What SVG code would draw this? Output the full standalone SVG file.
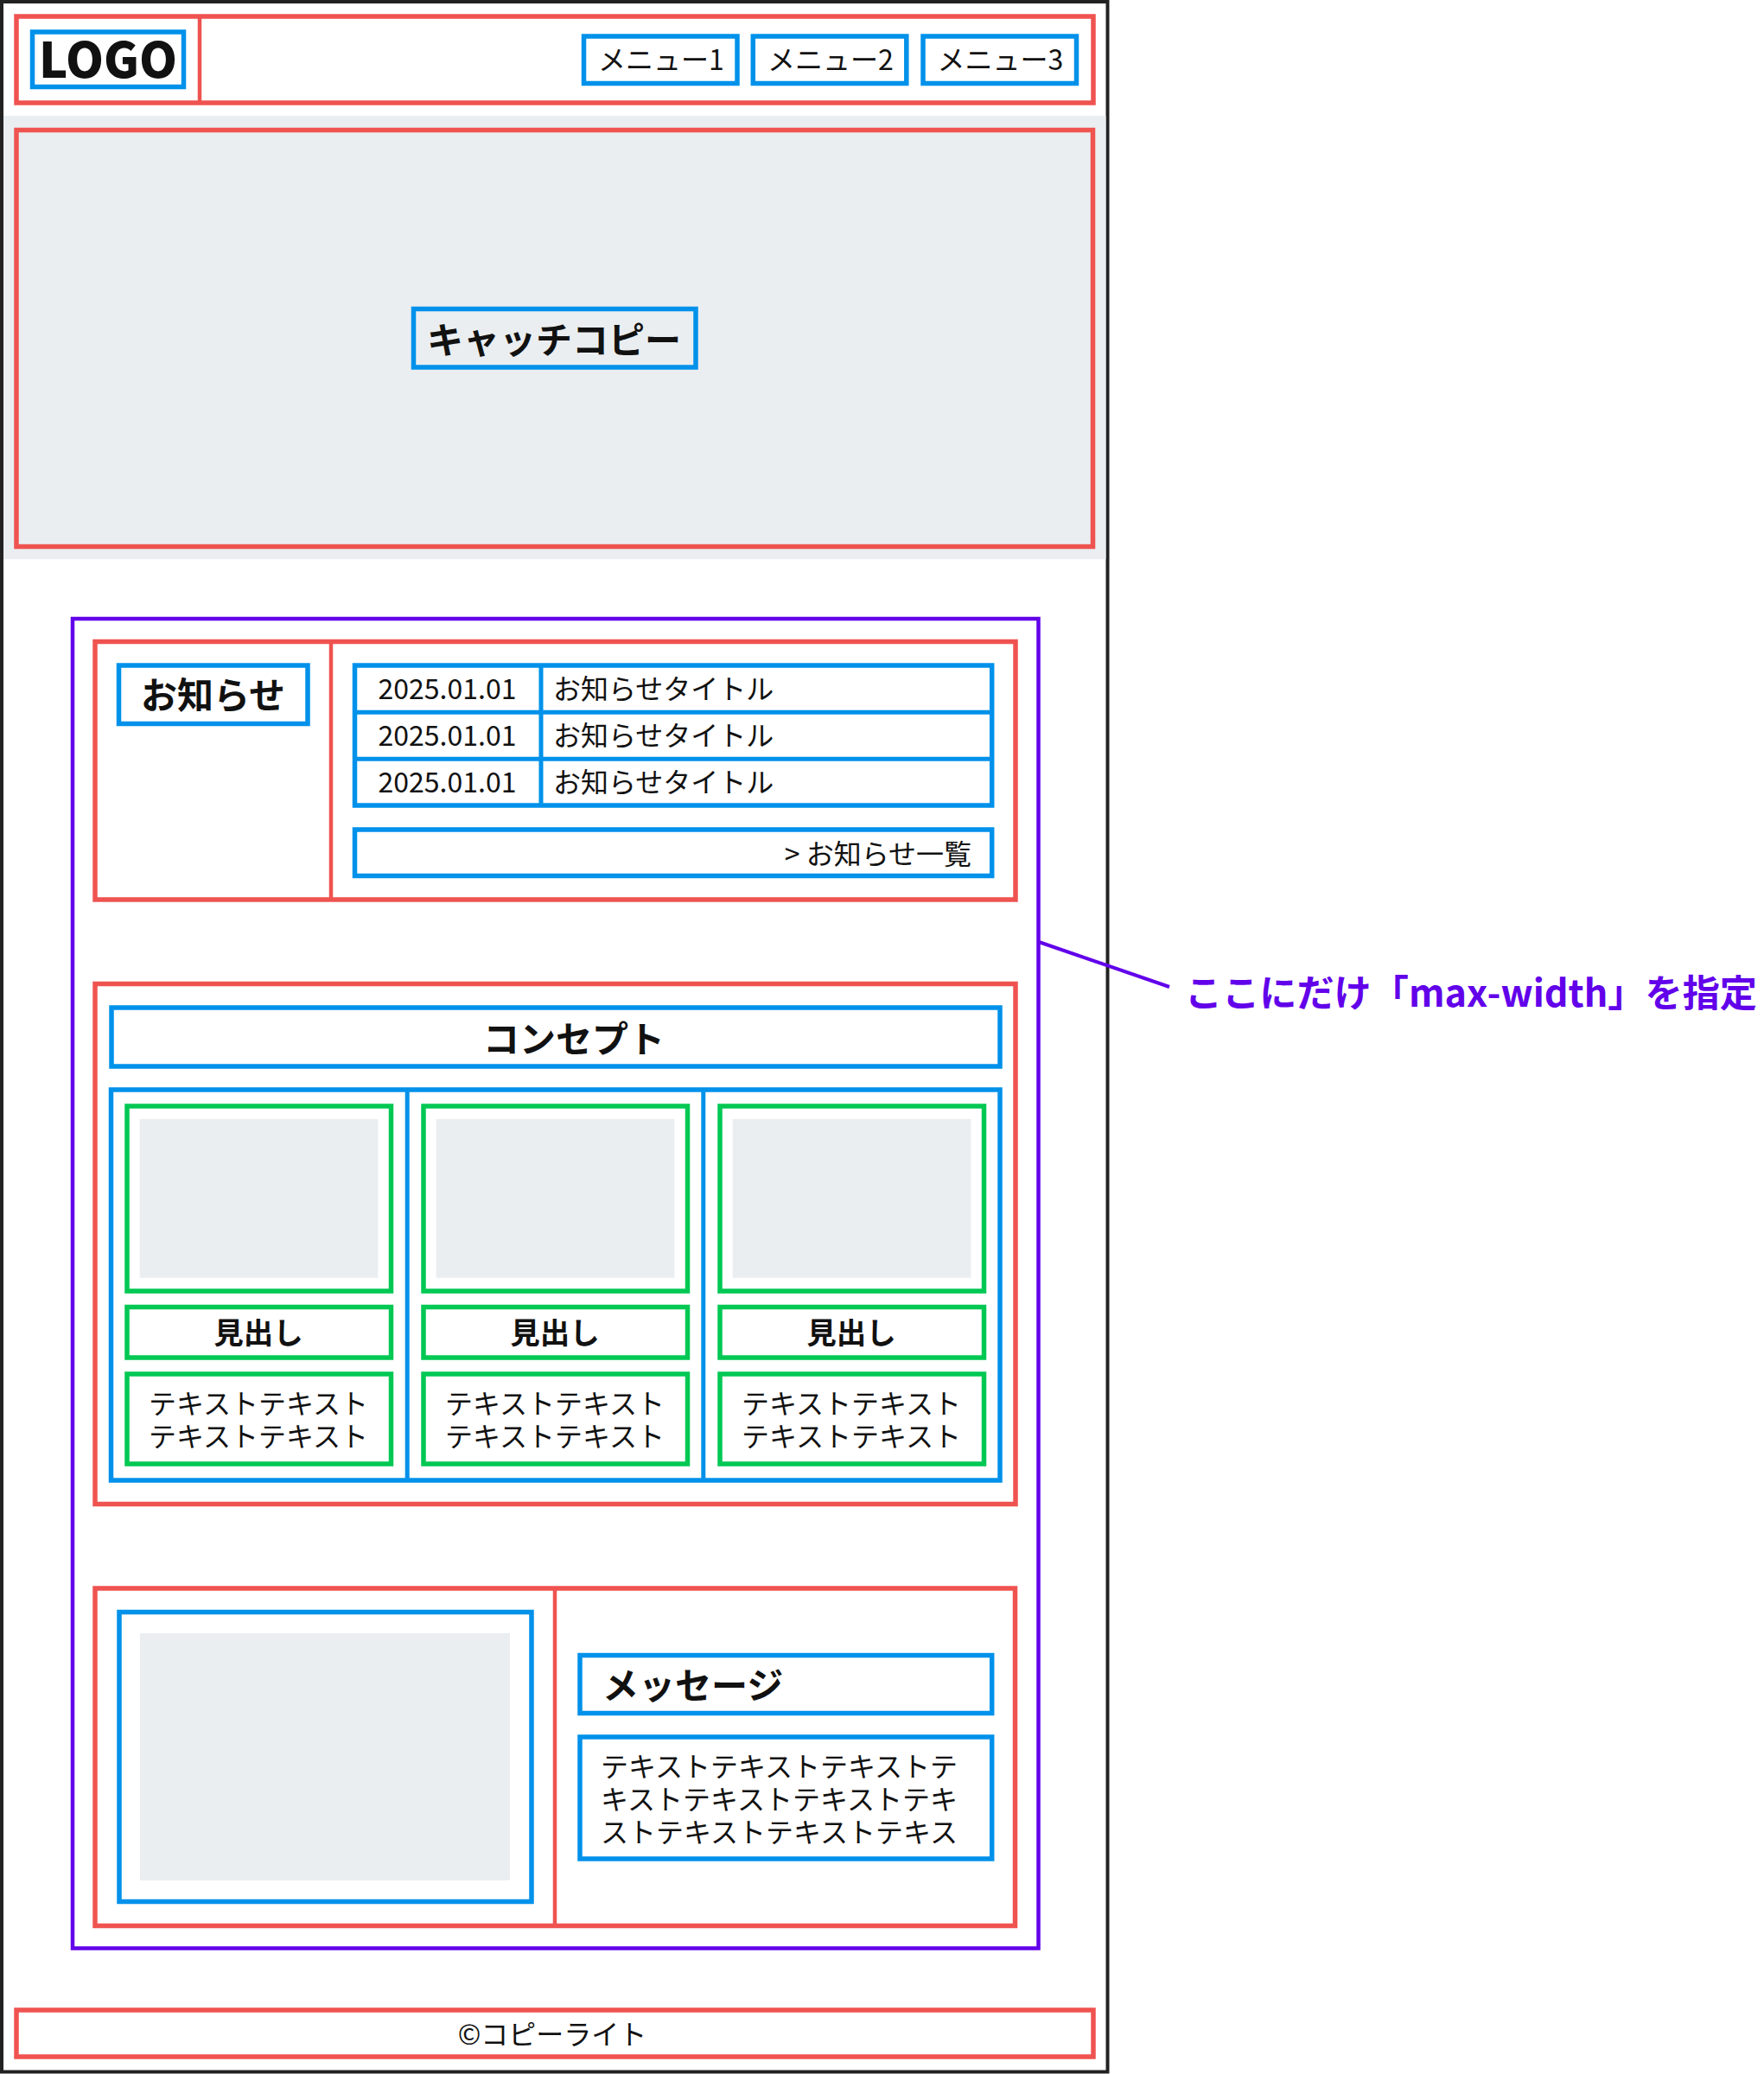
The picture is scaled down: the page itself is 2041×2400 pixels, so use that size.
<svg xmlns="http://www.w3.org/2000/svg" width="2041" height="2400" viewBox="0 0 2041 2400">
<style>
.r{fill:none;stroke:#EF5350;stroke-width:5.5}
.rl{stroke:#EF5350;stroke-width:4.5}
.b{fill:none;stroke:#0091EA;stroke-width:5.5}
.bl{stroke:#0091EA;stroke-width:5}
.g{fill:none;stroke:#00C853;stroke-width:5.5}
.p{fill:none;stroke:#6200EA;stroke-width:4.5}
.ph{fill:#EAEEF1}
text{font-family:"Noto Sans CJK JP","Noto Sans",sans-serif;fill:#111}
.t31{font-size:32px}
.bold{font-weight:700}
.m{text-anchor:middle}
.e{text-anchor:end}
</style>
<rect x="0" y="0" width="2041" height="2400" fill="#fff"/>
<rect id="page-frame" x="2" y="2" width="1279.5" height="2395.5" fill="#fff" stroke="#222" stroke-width="4"/>

<g id="header">
<rect class="r" x="19" y="19" width="1246" height="100"/>
<line class="rl" x1="231" y1="19" x2="231" y2="119"/>
</g>
<g id="logo">
<rect class="b" x="37.5" y="37" width="175" height="63.5"/>
<text class="m" x="125" y="89.5" font-size="56" font-weight="900">LOGO</text>
</g>
<g id="menu1">
<rect class="b" x="675.5" y="42" width="177.5" height="54.5"/>
<text class="t31 m" x="765" y="81">メニュー1</text>
</g>
<g id="menu2">
<rect class="b" x="871.3" y="42" width="177.5" height="54.5"/>
<text class="t31 m" x="961" y="81">メニュー2</text>
</g>
<g id="menu3">
<rect class="b" x="1068" y="42" width="177.5" height="54.5"/>
<text class="t31 m" x="1157.5" y="81">メニュー3</text>
</g>

<g id="hero">
<rect class="ph" x="4" y="134" width="1275.5" height="513"/>
<rect class="r" x="19" y="150.5" width="1245.5" height="482"/>
</g>
<g id="catchcopy">
<rect class="b" x="478.5" y="357.5" width="326.5" height="67.5"/>
<text class="bold m" x="641" y="409" font-size="42">キャッチコピー</text>
</g>

<g id="main-container">
<rect class="p" x="84" y="716" width="1117.5" height="1538.5"/>
</g>

<g id="news-section">
<rect class="r" x="110" y="742.5" width="1065" height="298.5"/>
<line class="rl" x1="383" y1="742.5" x2="383" y2="1041"/>
</g>
<g id="news-title">
<rect class="b" x="137.5" y="770" width="218.5" height="67.5"/>
<text class="bold m" x="246.5" y="819.5" font-size="42">お知らせ</text>
</g>
<g id="news-list">
<rect class="b" x="410.5" y="770" width="737.2" height="162"/>
<line class="bl" x1="410.5" y1="824.2" x2="1147.7" y2="824.2"/>
<line class="bl" x1="410.5" y1="878.2" x2="1147.7" y2="878.2"/>
<line class="bl" x1="626" y1="770" x2="626" y2="932"/>
<text class="t31 m" x="517.5" y="808.5">2025.01.01</text>
<text class="t31" x="640" y="808.5">お知らせタイトル</text>
<text class="t31 m" x="517.5" y="862.5">2025.01.01</text>
<text class="t31" x="640" y="862.5">お知らせタイトル</text>
<text class="t31 m" x="517.5" y="916.5">2025.01.01</text>
<text class="t31" x="640" y="916.5">お知らせタイトル</text>
</g>
<g id="news-more">
<rect class="b" x="410.5" y="960" width="737.2" height="53.5"/>
<text class="t31 e" x="1124" y="999.5">&gt; お知らせ一覧</text>
</g>

<g id="concept-section">
<rect class="r" x="110" y="1138.5" width="1065" height="602"/>
</g>
<g id="concept-title">
<rect class="b" x="129" y="1166" width="1028" height="68"/>
<text class="bold m" x="664" y="1217.5" font-size="42">コンセプト</text>
</g>
<g id="concept-cards">
<rect class="b" x="128.5" y="1261" width="1028.5" height="452"/>
<line class="bl" x1="471.2" y1="1261" x2="471.2" y2="1713"/>
<line class="bl" x1="813.8" y1="1261" x2="813.8" y2="1713"/>
</g>
<g id="card1">
<rect class="g" x="147" y="1280" width="305.5" height="214"/>
<rect class="ph" x="161.7" y="1295" width="275.7" height="183.7"/>
<rect class="g" x="147" y="1512.5" width="305.5" height="58.5"/>
<text class="bold m" x="299" y="1555" font-size="34.5">見出し</text>
<rect class="g" x="147" y="1590" width="305.5" height="104"/>
<text class="t31 m" x="299" y="1635.5">テキストテキスト</text>
<text class="t31 m" x="299" y="1673.5">テキストテキスト</text>
</g>
<g id="card2">
<rect class="g" x="490" y="1280" width="305.5" height="214"/>
<rect class="ph" x="504.7" y="1295" width="275.7" height="183.7"/>
<rect class="g" x="490" y="1512.5" width="305.5" height="58.5"/>
<text class="bold m" x="642" y="1555" font-size="34.5">見出し</text>
<rect class="g" x="490" y="1590" width="305.5" height="104"/>
<text class="t31 m" x="642" y="1635.5">テキストテキスト</text>
<text class="t31 m" x="642" y="1673.5">テキストテキスト</text>
</g>
<g id="card3">
<rect class="g" x="833" y="1280" width="305.5" height="214"/>
<rect class="ph" x="847.7" y="1295" width="275.7" height="183.7"/>
<rect class="g" x="833" y="1512.5" width="305.5" height="58.5"/>
<text class="bold m" x="985" y="1555" font-size="34.5">見出し</text>
<rect class="g" x="833" y="1590" width="305.5" height="104"/>
<text class="t31 m" x="985" y="1635.5">テキストテキスト</text>
<text class="t31 m" x="985" y="1673.5">テキストテキスト</text>
</g>

<g id="message-section">
<rect class="r" x="110" y="1838" width="1064.5" height="390.5"/>
<line class="rl" x1="642" y1="1838" x2="642" y2="2228.5"/>
</g>
<g id="message-image">
<rect class="b" x="138" y="1865.5" width="477" height="335"/>
<rect class="ph" x="162" y="1890" width="428" height="286"/>
</g>
<g id="message-title">
<rect class="b" x="671" y="1915.5" width="476.7" height="67"/>
<text class="bold" x="697" y="1965.5" font-size="42">メッセージ</text>
</g>
<g id="message-text">
<rect class="b" x="671" y="2010" width="476.7" height="141"/>
<text class="t31" x="695" y="2055.5">テキストテキストテキストテ</text>
<text class="t31" x="695" y="2093.8">キストテキストテキストテキ</text>
<text class="t31" x="695" y="2132">ストテキストテキストテキス</text>
</g>

<g id="footer">
<rect class="r" x="19" y="2326" width="1246" height="54"/>
<text class="t31 m" x="639" y="2365.5">©コピーライト</text>
</g>

<g id="connectors">
<line x1="1202" y1="1090" x2="1353" y2="1142" stroke="#6200EA" stroke-width="4"/>
</g>
<g id="annotation">
<text class="bold" x="1371" y="1165" font-size="43.5" textLength="662" lengthAdjust="spacingAndGlyphs" style="fill:#6200EA">ここにだけ「max-width」を指定</text>
</g>
</svg>
